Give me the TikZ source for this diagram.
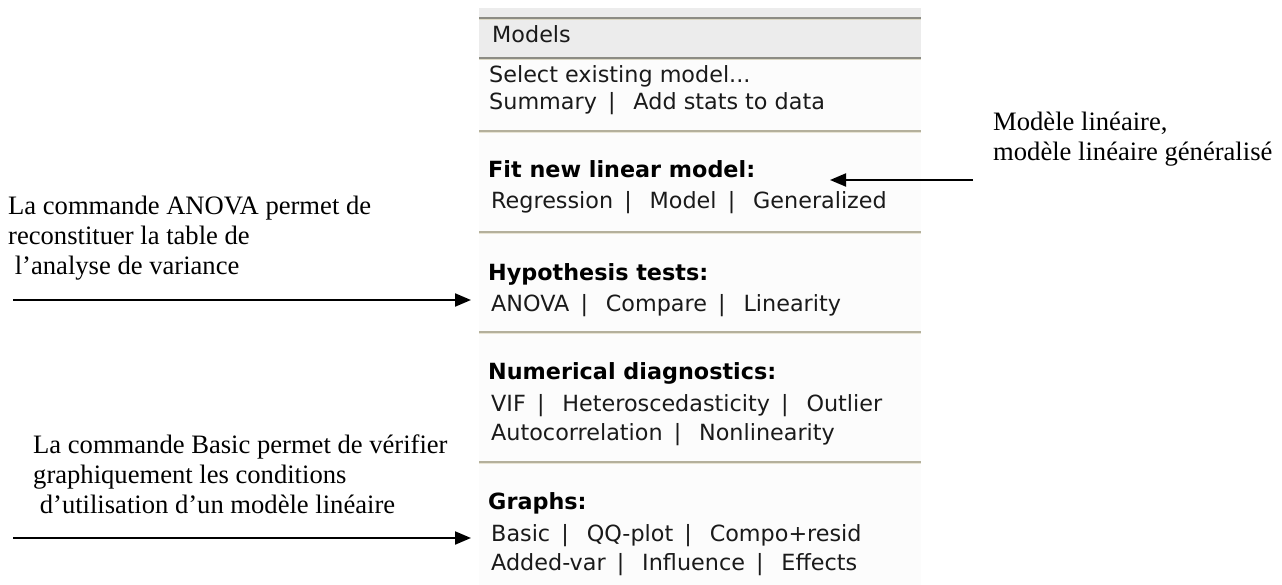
\documentclass[tikz,border=0pt]{standalone}
\usepackage{fontspec}
\setmainfont{Liberation Serif}
\newfontfamily\uifont{DejaVu Sans}
\usetikzlibrary{arrows.meta}
\definecolor{hdrgray}{HTML}{ECECEC}
\definecolor{hdrline}{HTML}{8C8C84}
\definecolor{hdrlight}{HTML}{DCD8C4}
\definecolor{sepdark}{HTML}{B4B09C}
\definecolor{seplight}{HTML}{E8E4D4}
\definecolor{panelbg}{HTML}{FCFCFC}
\definecolor{uitext}{HTML}{1A1A1A}
\newcommand{\uibar}{\hspace{0.5em}|\hspace{0.8em}}
\tikzset{
  uitem/.style={font=\uifont\fontsize{22.3}{27}\selectfont, text=uitext, inner sep=0pt, anchor=base west},
  uhead/.style={font=\uifont\bfseries\fontsize{22.3}{27}\selectfont, text=black, inner sep=0pt, anchor=base west},
  note/.style={font=\fontsize{26.6}{30}\selectfont, text=black, inner sep=0pt, anchor=base west},
  arr/.style={line width=2pt, -{Triangle[length=16pt,width=13pt]}},
  sepa/.style={draw=sepdark, line width=1.4pt},
  sepb/.style={draw=seplight, line width=1.4pt}
}
\begin{document}
\begin{tikzpicture}[x=1pt,y=-1pt]
\useasboundingbox (0,0) rectangle (1282,585);
% panel background
\fill[panelbg] (479,60) rectangle (921,585);
\fill[hdrgray] (479,8) rectangle (921,58);
\draw[hdrline, line width=1.6pt] (479,18) -- (921,18);
\draw[hdrlight, line width=1pt] (479,19.8) -- (921,19.8);
\draw[hdrline, line width=1.6pt] (479,58) -- (921,58);
\draw[hdrlight, line width=1pt] (479,59.8) -- (921,59.8);
% separators
\foreach \yy in {131,232,332,462}{
  \draw[sepa] (479,\yy) -- (921,\yy);
  \draw[sepb] (479,\yy+1.4) -- (921,\yy+1.4);
}
% panel texts
\node[uitem] (models) at (492,43) {Models};
\node[uitem] (select) at (489,83) {Select existing model...};
\node[uitem] (summary) at (489,110) {Summary\uibar Add stats to data};
\node[uhead] (fit) at (488,178) {Fit new linear model:};
\node[uitem] (regr) at (491,209) {Regression\uibar Model\uibar Generalized};
\node[uhead] (hyp) at (488,280) {Hypothesis tests:};
\node[uitem] (anova) at (491,311) {ANOVA\uibar Compare\uibar Linearity};
\node[uhead] (num) at (488,379) {Numerical diagnostics:};
\node[uitem] (vif) at (491,411) {VIF\uibar Heteroscedasticity\uibar Outlier};
\node[uitem] (auto) at (491,440) {Autocorrelation\uibar Nonlinearity};
\node[uhead] (graphs) at (488,509) {Graphs:};
\node[uitem] (basic) at (491,541) {Basic\uibar QQ-plot\uibar Compo+resid};
\node[uitem] (added) at (491,570) {Added-var\uibar Influence\uibar Effects};
% annotations
\node[note] (rA) at (993,131) {Modèle linéaire,};
\node[note] (rB) at (993,161) {modèle linéaire généralisé};
\node[note] (aA) at (8,215) {La commande ANOVA permet de};
\node[note] (aB) at (8,245) {reconstituer la table de};
\node[note] (aC) at (8,275) {\hspace*{0.25em}l’analyse de variance};
\node[note] (bA) at (33,453) {La commande Basic permet de vérifier};
\node[note] (bB) at (33,483) {graphiquement les conditions};
\node[note] (bC) at (33,513) {\hspace*{0.25em}d’utilisation d’un modèle linéaire};
% arrows
\coordinate (rS) at (973,180);
\coordinate (rE) at (830,180);
\coordinate (aS) at (13,300);
\coordinate (aE) at (471,300);
\coordinate (bS) at (13,538);
\coordinate (bE) at (471,538);
\draw[arr] (rS) -- (rE);
\draw[arr] (aS) -- (aE);
\draw[arr] (bS) -- (bE);
\end{tikzpicture}
\end{document}
